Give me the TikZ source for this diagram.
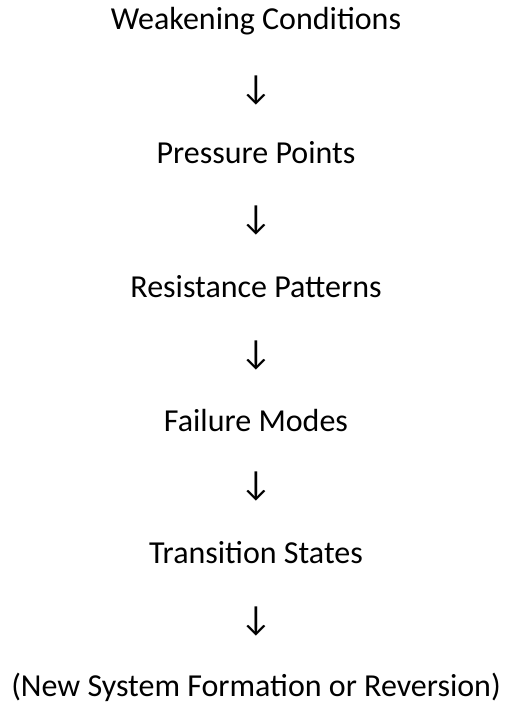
\documentclass[tikz,border=0pt]{standalone}
\usepackage{fontspec}
\setmainfont{Carlito}
\begin{document}
\begin{tikzpicture}[x=1bp,y=1bp,
  lbl/.style={anchor=base, inner sep=0pt, font=\fontsize{32bp}{38bp}\selectfont, text=black},
  arr/.style={anchor=center, inner sep=0pt, font=\fontsize{35bp}{40bp}\selectfont, text=black}]
\useasboundingbox (0,0) rectangle (505,-704);
\fill[white] (0,0) rectangle (505,-704);
\node[lbl] (n1) at (256,-30) {Weakening Conditions};
\node[arr] (a1) at (256,-91) {↓};
\node[lbl] (n2) at (256,-163) {Pressure Points};
\node[arr] (a2) at (256,-221) {↓};
\node[lbl] (n3) at (256,-297) {Resistance Patterns};
\node[arr] (a3) at (256,-355) {↓};
\node[lbl] (n4) at (256,-431) {Failure Modes};
\node[arr] (a4) at (256,-486) {↓};
\node[lbl] (n5) at (256,-563) {Transition States};
\node[arr] (a5) at (256,-621) {↓};
\node[lbl] (n6) at (256,-696) {(New System Formation or Reversion)};
\end{tikzpicture}
\end{document}
